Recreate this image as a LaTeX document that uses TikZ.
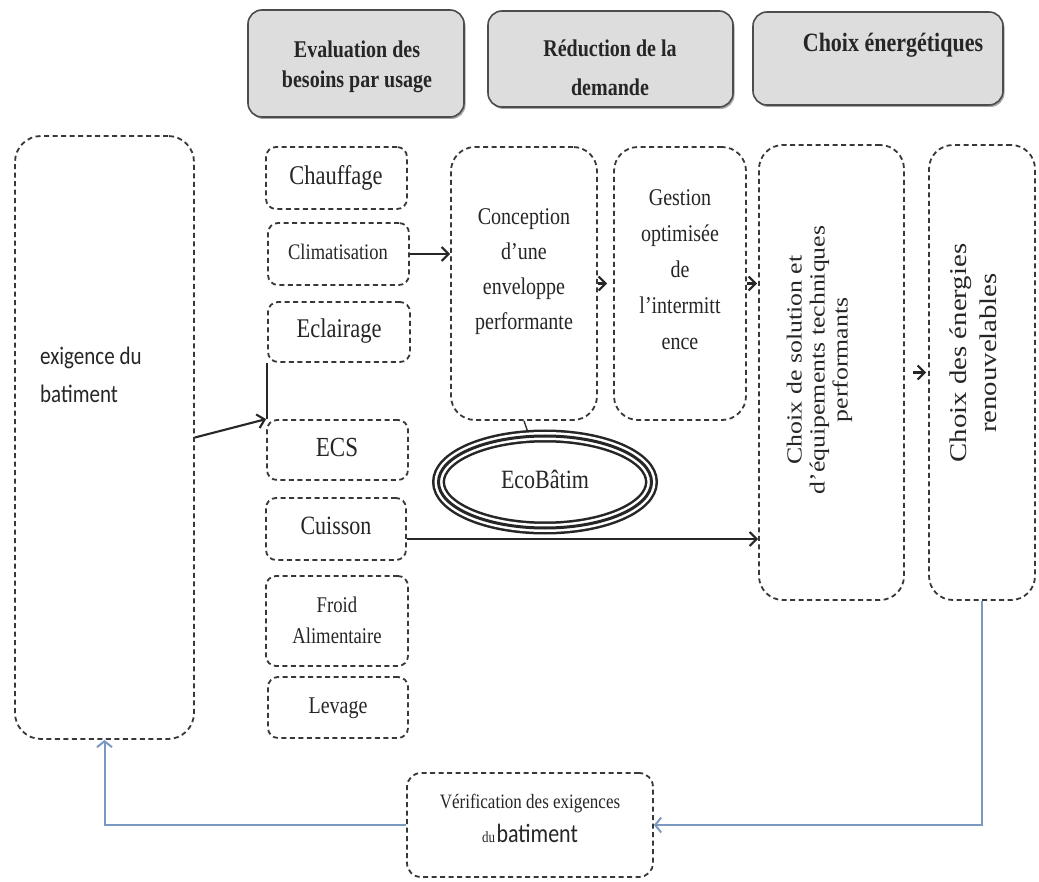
\documentclass[tikz,border=0pt]{standalone}
\usepackage{fontspec}
\usepackage{graphicx}
\setmainfont{Liberation Serif}
\newfontfamily\calib{Carlito}
\usetikzlibrary{arrows.meta,shapes.geometric,shadows,fit}

\definecolor{backblue}{RGB}{122,152,192}
\definecolor{headfill}{RGB}{221,221,221}

% font size helper and slightly tall centred text block
\newcommand{\fs}[2]{\fontsize{#1}{#2}\selectfont}
\newcommand{\tallc}[4][]{\scalebox{1}[1.2]{\fs{#2}{#3}#1\begin{tabular}{@{}c@{}}#4\end{tabular}}}

\begin{document}
\begin{tikzpicture}[x=1pt,y=-1pt,
  dbox/.style={draw=black!78, dash pattern=on 5pt off 3.5pt, line width=1.8pt,
               rounded corners=#1, inner sep=0pt},
  dbox/.default=10pt,
  hbox/.style={draw=black!70, line width=1.6pt, fill=headfill, rounded corners=14pt,
               inner sep=0pt,
               drop shadow={shadow xshift=1.5pt, shadow yshift=-2pt, opacity=0.35, fill=black}},
  lbl/.style={inner sep=0pt, text=black!85},
  arr/.style={line width=2.1pt, draw=black!85, -{Straight Barb[length=7pt,width=14pt]}},
  back/.style={line width=2pt, draw=backblue, -{Straight Barb[length=6pt,width=15pt]}},
  ring/.style={ellipse, draw=black!85, line width=13pt, inner sep=0pt,
               minimum width=213pt, minimum height=92pt, text=black!85,
               postaction={draw=white, line width=8pt},
               postaction={draw=black!85, line width=3pt}}
]
\fill[white] (0,0) rectangle (1039,882);
\useasboundingbox (0,0) rectangle (1039,882);

% header boxes
\node[hbox, fit={(248,10) (464,117)}] (h1) {};
\node[hbox, fit={(488,11) (733,107)}] (h2) {};
\node[hbox, fit={(753,12) (1003,105)}] (h3) {};
\node[lbl] (h1t) at (357,67) {\tallc[\bfseries]{20}{25}{Evaluation des\\besoins par usage}};
\node[lbl] (h2t) at (610,68) {\tallc[\bfseries]{20}{33}{Réduction de la\\demande}};
\node[lbl] (h3t) at (893,45) {\tallc[\bfseries]{22}{26}{Choix énergétiques}};

% building requirements
\node[dbox=26pt, fit={(15,136) (194,739)}] (exig) {};
\node[lbl, anchor=west] (exigt) at (40,376)
  {\scalebox{1}[1.2]{\calib\fs{21}{31}\begin{tabular}{@{}l@{}}exigence du\\batiment\end{tabular}}};

% needs per usage
\node[dbox, fit={(266,147) (407,209)}] (chauf) {};
\node[dbox, fit={(268,223) (409,285)}] (clim) {};
\node[dbox, fit={(268,302) (410,362)}] (ecl) {};
\node[dbox, fit={(267,420) (408,480)}] (ecs) {};
\node[dbox, fit={(266,498) (406,560)}] (cuis) {};
\node[dbox, fit={(266,576) (408,666)}] (froid) {};
\node[dbox, fit={(268,677) (408,738)}] (lev) {};
\node[lbl] (chauft) at (336,178) {\tallc{22.5}{26}{Chauffage}};
\node[lbl] (climt) at (338,254) {\tallc{18.5}{22}{Climatisation}};
\node[lbl] (eclt) at (339,331) {\tallc{22.5}{26}{Eclairage}};
\node[lbl] (ecst) at (337,450) {\tallc{23}{26}{ECS}};
\node[lbl] (cuist) at (336,528) {\tallc{22}{26}{Cuisson}};
\node[lbl] (froidt) at (337,622) {\tallc{18.7}{26}{Froid\\Alimentaire}};
\node[lbl] (levt) at (338,708) {\tallc{20}{24}{Levage}};

% demand reduction
\node[dbox=24pt, fit={(451,147) (597,420)}] (conc) {};
\node[lbl] (conct) at (524,270) {\tallc{20}{29}{Conception\\d'une\\enveloppe\\performante}};
\node[dbox=24pt, fit={(614,147) (746,420)}] (gest) {};
\node[lbl] (gestt) at (680,270) {\tallc{20}{30}{Gestion\\optimisée\\de\\l'intermitt\\ence}};

% energy choices
\node[dbox=24pt, fit={(759,145) (904,600)}] (sol) {};
\node[lbl, rotate=90] (solt) at (820,360)
  {\scalebox{1.2}[1]{\fs{21.5}{23}\begin{tabular}{@{}c@{}}Choix de solution et\\d'équipements techniques\\performants\end{tabular}}};
\node[dbox=24pt, fit={(929,145) (1035,600)}] (ener) {};
\node[lbl, rotate=90] (enert) at (975,353)
  {\scalebox{1.2}[1]{\fs{24}{30}\begin{tabular}{@{}c@{}}Choix des énergies\\renouvelables\end{tabular}}};

% verification
\node[dbox=14pt, fit={(407,773) (653,877)}] (verif) {};
\node[lbl] (veritt) at (530,819)
  {\scalebox{1}[1.2]{\fs{17}{28}\begin{tabular}{@{}c@{}}Vérification des exigences\\{\fs{13}{16}du}\kern1.5pt{\calib\fs{22}{28}batiment}\end{tabular}}};

% EcoBatim label
\node[ring] (eco) at (545,482) {\tallc{22}{26}{EcoBâtim}};

% connectors
\draw[line width=1.8pt, black!85] (ecl.south west) -- (ecs.north west -| ecl.south west);
\draw[arr] (exig.east) -- (ecs.north west);
\draw[arr] (clim.east) -- (clim.east -| conc.west);
\draw[arr, shorten >=6pt] (conc.east) -- (conc.east -| gest.west);
\draw[arr, shorten >=1pt] (gest.east) -- (gest.east -| sol.west);
\draw[arr, shorten <=8pt, shorten >=2pt] (sol.east) -- (sol.east -| ener.west);
\draw[arr] ([yshift=-10pt]cuis.east) -- ([yshift=-10pt]cuis.east -| sol.west);
\draw[line width=1.4pt, black!80] (conc.south) -- (eco);

% feedback loop
\draw[back] (ener.south) |- (verif.east);
\draw[back] (verif.west) -| (exig.south);
\end{tikzpicture}
\end{document}
